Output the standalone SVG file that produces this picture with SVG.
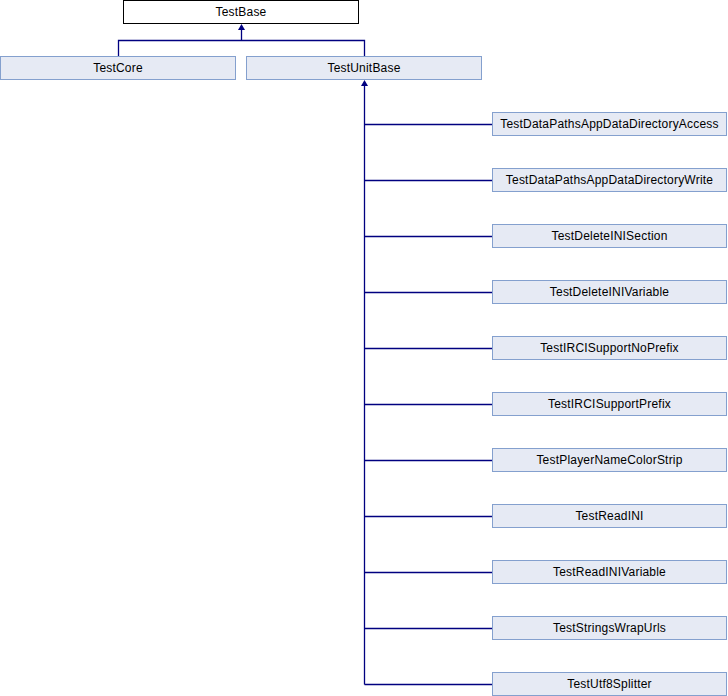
<svg xmlns="http://www.w3.org/2000/svg" width="728" height="696" viewBox="0 0 728 696">
<style>
.box{fill:#E6EAF4;stroke:#84A0CE;stroke-width:1}
.cur{fill:#FFFFFF;stroke:#000000;stroke-width:1}
.lbl{font-family:"Liberation Sans",Arial,sans-serif;font-size:12px;letter-spacing:0.2px;fill:#000000;text-anchor:middle}
.edge{fill:none;stroke:#000080;stroke-width:1.3}
.ah{fill:#000080;stroke:none}
</style>
<defs>
<polygon id="arr" class="ah" points="0,0 -3.5,6 3.5,6"/>
</defs>
<rect width="728" height="696" fill="#FFFFFF"/>
<g id="connectors">
<path class="edge" d="M241.5,28 V40.5 M118.5,56 V40.5 H364.5 V56"/>
<use href="#arr" x="241.5" y="24"/>
<path class="edge" d="M364.5,84 V684.5"/>
<use href="#arr" x="364.5" y="80"/>
<path class="edge" d="M364.5,124.5 H492.5 M364.5,180.5 H492.5 M364.5,236.5 H492.5 M364.5,292.5 H492.5 M364.5,348.5 H492.5 M364.5,404.5 H492.5 M364.5,460.5 H492.5 M364.5,516.5 H492.5 M364.5,572.5 H492.5 M364.5,628.5 H492.5 M364.5,684.5 H492.5"/>
</g>
<g id="TestBase"><rect class="cur" x="123.5" y="0.5" width="235" height="23"/><text class="lbl" x="241" y="16.3">TestBase</text></g>
<g id="TestCore"><rect class="box" x="0.5" y="56.5" width="235" height="23"/><text class="lbl" x="118" y="72.3">TestCore</text></g>
<g id="TestUnitBase"><rect class="box" x="246.5" y="56.5" width="235" height="23"/><text class="lbl" x="364" y="72.3">TestUnitBase</text></g>
<g id="TestDataPathsAppDataDirectoryAccess"><rect class="box" x="492.5" y="112.5" width="234" height="23"/><text class="lbl" x="609.5" y="128.3">TestDataPathsAppDataDirectoryAccess</text></g>
<g id="TestDataPathsAppDataDirectoryWrite"><rect class="box" x="492.5" y="168.5" width="234" height="23"/><text class="lbl" x="609.5" y="184.3">TestDataPathsAppDataDirectoryWrite</text></g>
<g id="TestDeleteINISection"><rect class="box" x="492.5" y="224.5" width="234" height="23"/><text class="lbl" x="609.5" y="240.3">TestDeleteINISection</text></g>
<g id="TestDeleteINIVariable"><rect class="box" x="492.5" y="280.5" width="234" height="23"/><text class="lbl" x="609.5" y="296.3">TestDeleteINIVariable</text></g>
<g id="TestIRCISupportNoPrefix"><rect class="box" x="492.5" y="336.5" width="234" height="23"/><text class="lbl" x="609.5" y="352.3">TestIRCISupportNoPrefix</text></g>
<g id="TestIRCISupportPrefix"><rect class="box" x="492.5" y="392.5" width="234" height="23"/><text class="lbl" x="609.5" y="408.3">TestIRCISupportPrefix</text></g>
<g id="TestPlayerNameColorStrip"><rect class="box" x="492.5" y="448.5" width="234" height="23"/><text class="lbl" x="609.5" y="464.3">TestPlayerNameColorStrip</text></g>
<g id="TestReadINI"><rect class="box" x="492.5" y="504.5" width="234" height="23"/><text class="lbl" x="609.5" y="520.3">TestReadINI</text></g>
<g id="TestReadINIVariable"><rect class="box" x="492.5" y="560.5" width="234" height="23"/><text class="lbl" x="609.5" y="576.3">TestReadINIVariable</text></g>
<g id="TestStringsWrapUrls"><rect class="box" x="492.5" y="616.5" width="234" height="23"/><text class="lbl" x="609.5" y="632.3">TestStringsWrapUrls</text></g>
<g id="TestUtf8Splitter"><rect class="box" x="492.5" y="672.5" width="234" height="23"/><text class="lbl" x="609.5" y="688.3">TestUtf8Splitter</text></g>
</svg>
